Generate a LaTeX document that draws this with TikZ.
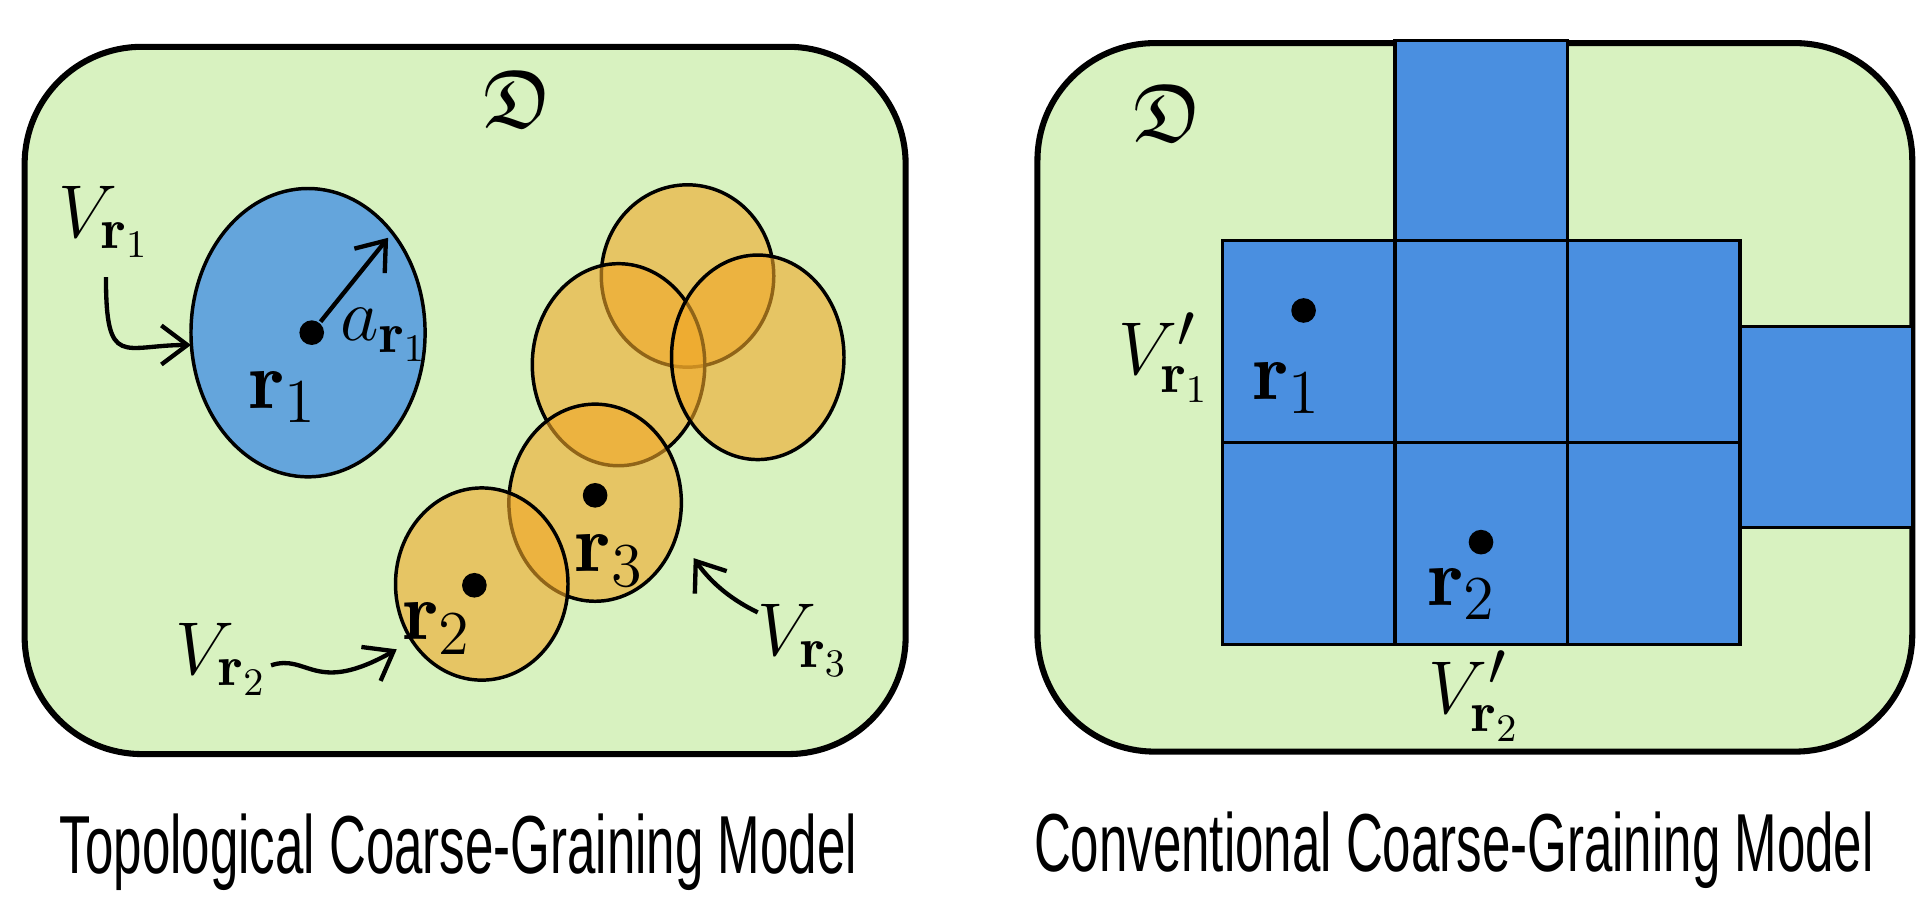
\documentclass[tikz,border=0pt]{standalone}
\usepackage{amsmath,amssymb}
\usepackage{fontspec}
\newfontfamily\capfont{Liberation Sans}
\usetikzlibrary{arrows.meta}
\definecolor{domain}{RGB}{216,242,192}
\definecolor{sphere}{RGB}{100,165,220}
\definecolor{cell}{RGB}{74,143,224}
\definecolor{ball}{RGB}{240,168,40}
\begin{document}
\begin{tikzpicture}[x=0.01cm, y=-0.01cm, thick]
    \tikzset{
        region/.style = {draw, line width=1.4pt, fill=domain, rounded corners=0.95cm},
        ball/.style   = {draw, fill=ball, fill opacity=0.6},
        box/.style    = {draw, fill=cell},
        dot/.style    = {circle, fill, inner sep=0pt, minimum width=0.17cm, minimum height=0.2cm},
        lab/.style    = {font=\fontsize{19}{23}\selectfont},
        caption/.style= {font=\capfont\fontsize{19}{22}\selectfont},
        pointer/.style= {-{Straight Barb[length=6pt,width=9pt]}, line width=1pt}
    }
    \useasboundingbox (0,0) rectangle (1568,740);
    % left domain
    \draw[region] (20,38) rectangle (735,612);
    \node[lab] (DL) at (420,80) {$\mathfrak{D}$};
    \draw[fill=sphere] (250,270) ellipse [x radius=95, y radius=117];
    \node[dot] (R1) at (253,270) {};
    \coordinate (RIM) at (315,193);
    \draw[pointer] (R1) -- (RIM);
    \node[lab] (A1) at (312,272) {$a_{\mathbf{r}_1}$};
    \node[lab] (L1) at (230,322) {$\mathbf{r}_1$};
    % overlapping volumes
    \draw[ball] (558,224) ellipse [x radius=70, y radius=74];
    \draw[ball] (502,296) ellipse [x radius=70, y radius=82];
    \draw[ball] (615,290) ellipse [x radius=70, y radius=83];
    \draw[ball] (483,408) ellipse [x radius=70, y radius=80];
    \draw[ball] (391,474) ellipse [x radius=70, y radius=78];
    \node[dot] (R3) at (483,402) {};
    \node[dot] (R2) at (385,475) {};
    \node[lab] (L3) at (495,455) {$\mathbf{r}_3$};
    \node[lab] (L2) at (355,510) {$\mathbf{r}_2$};
    % volume labels
    \node[lab] (V1) at (85,180) {$V_{\mathbf{r}_1}$};
    \node[lab] (V2) at (180,535) {$V_{\mathbf{r}_2}$};
    \node[lab] (V3) at (652,520) {$V_{\mathbf{r}_3}$};
    \coordinate (E1) at (155,280);
    \coordinate (E2) at (322,527);
    \coordinate (E3) at (563,453);
    \draw[pointer] (86,225) .. controls (86,300) and (100,280) .. (E1);
    \draw[pointer] (220,540) .. controls (250,530) and (255,565) .. (E2);
    \draw[pointer] (615,497) .. controls (590,485) and (575,470) .. (E3);
    % right domain
    \draw[region] (842,35) rectangle (1552,610);
    \node[lab] (DR) at (948,92) {$\mathfrak{D}$};
    \draw[box] (1132,33) rectangle (1272,195);
    \draw[box] (1412,265) rectangle (1552,428);
    \foreach \i in {0,1,2}
        \foreach \j in {0,1}
            \draw[box] (992+140*\i,195+164*\j) rectangle ++(140,164);
    \node[dot] (P1) at (1058,252) {};
    \node[dot] (P2) at (1202,440) {};
    \node[lab] (Q1) at (1045,315) {$\mathbf{r}_1$};
    \node[lab] (Q2) at (1187,482) {$\mathbf{r}_2$};
    \node[lab] (W1) at (945,290) {$V'_{\mathbf{r}_1}$};
    \node[lab] (W2) at (1197,565) {$V'_{\mathbf{r}_2}$};
    % captions
    \node[caption] (CL) at (372,692) {\scalebox{0.62}[1]{Topological Coarse-Graining Model}};
    \node[caption] (CR) at (1180,690) {\scalebox{0.62}[1]{Conventional Coarse-Graining Model}};
\end{tikzpicture}
\end{document}
